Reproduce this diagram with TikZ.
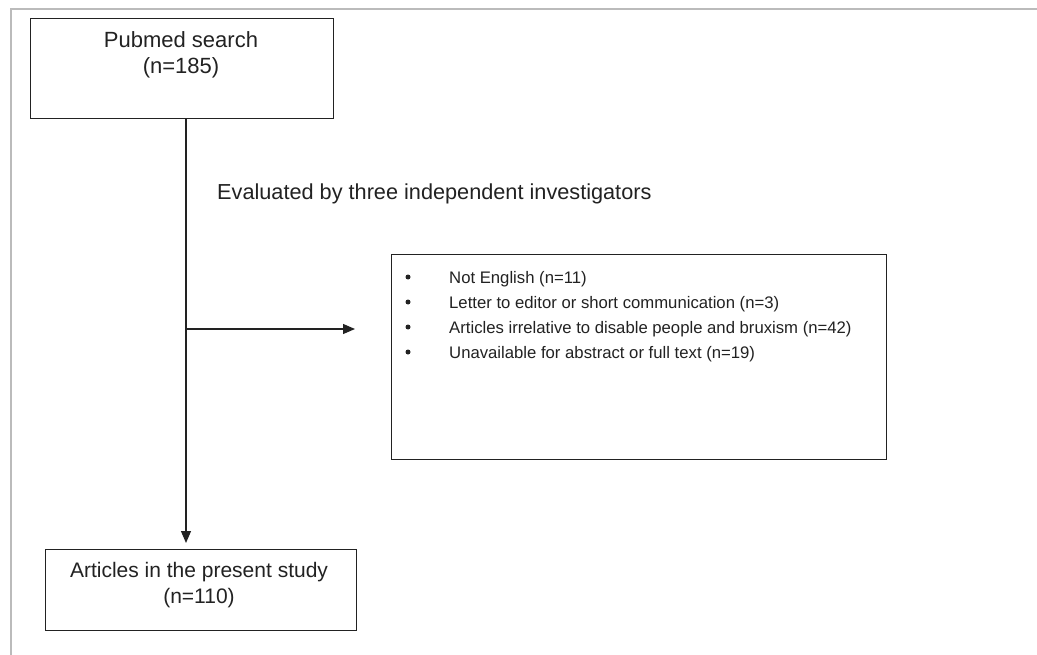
\documentclass[tikz,border=0pt]{standalone}
\usepackage{fontspec}
\setmainfont{Liberation Sans}
\usetikzlibrary{arrows.meta}
\definecolor{frame}{HTML}{BBBBBB}
\definecolor{ink}{HTML}{222222}
\tikzset{
  boxnode/.style={draw=ink, line width=1.3bp, inner sep=0pt, anchor=north west},
  txt/.style={inner sep=0pt, anchor=base, text=ink},
  ltxt/.style={inner sep=0pt, anchor=base west, text=ink, font=\fontsize{16.7bp}{20bp}\selectfont},
  arr/.style={draw=ink, line width=1.2bp, -{Triangle[length=12bp,width=10bp]}},
  bulletdot/.style={circle, fill=ink, inner sep=0pt, minimum size=5bp},
}
\begin{document}
\begin{tikzpicture}[x=1bp,y=-1bp]
\useasboundingbox (0,0) rectangle (1037,655);
\fill[white] (0,0) rectangle (1037,655);
% outer frame
\draw[frame, line width=1.5bp] (11,655) -- (11,9) -- (1037,9);
% boxes
\node[boxnode, minimum width=303bp, minimum height=100bp] (search) at (30,18) {};
\node[boxnode, minimum width=311bp, minimum height=81bp] (study) at (45,549) {};
\node[boxnode, minimum width=495bp, minimum height=205bp] (excl) at (391,254) {};
% texts
\node[txt, font=\fontsize{22bp}{26bp}\selectfont] (t1) at (181,48) {Pubmed search};
\node[txt, font=\fontsize{22bp}{26bp}\selectfont] (t2) at (181,74) {(n=185)};
\node[txt, font=\fontsize{21bp}{26bp}\selectfont] (t3) at (199,577) {Articles in the present study};
\node[txt, font=\fontsize{21bp}{26bp}\selectfont] (t4) at (199,603) {(n=110)};
\node[inner sep=0pt, anchor=base west, text=ink, font=\fontsize{21.7bp}{26bp}\selectfont] (evl) at (217,200) {Evaluated by three independent investigators};
% list
\node[bulletdot] (b1) at (408,277) {};
\node[bulletdot] (b2) at (408,302) {};
\node[bulletdot] (b3) at (408,327) {};
\node[bulletdot] (b4) at (408,352) {};
\node[ltxt] (l1) at (449,283) {Not English (n=11)};
\node[ltxt] (l2) at (449,308) {Letter to editor or short communication (n=3)};
\node[ltxt] (l3) at (449,333) {Articles irrelative to disable people and bruxism (n=42)};
\node[ltxt] (l4) at (449,358) {Unavailable for abstract or full text (n=19)};
% connectors
\coordinate (vline) at (186,0);
\coordinate (branch) at (186,329);
\coordinate (hend) at (355,329);
\draw[arr, shorten >=6bp] (search.south -| vline) -- (study.north -| vline);
\draw[arr] (branch) -- (hend);
\end{tikzpicture}
\end{document}
